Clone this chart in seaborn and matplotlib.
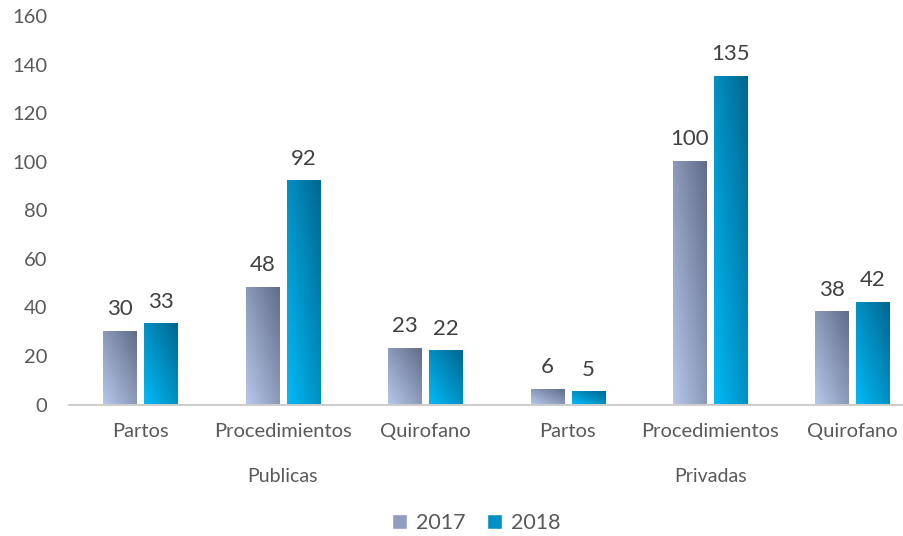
import numpy as np
import pandas as pd
import seaborn as sns
import matplotlib.pyplot as plt
from matplotlib.colors import LinearSegmentedColormap
from matplotlib.patches import Patch

# Data.
groups = ['Publicas', 'Publicas', 'Publicas', 'Privadas', 'Privadas', 'Privadas']
categories = ['Partos', 'Procedimientos', 'Quirofano',
              'Partos', 'Procedimientos', 'Quirofano']
values_2017 = [30, 48, 23, 6, 100, 38]
values_2018 = [33, 92, 22, 5, 135, 42]
years = ['2017', '2018']

keys = [f'{g}|{c}' for g, c in zip(groups, categories)]
df = pd.DataFrame({
    'key': keys * 2,
    'year': [years[0]] * len(keys) + [years[1]] * len(keys),
    'value': values_2017 + values_2018,
})

# Gradient ends (bottom-left light, top-right dark) per series.
grad = {
    '2017': ('#b6c7ea', '#616d88'),
    '2018': ('#00baf7', '#00668f'),
}
mid = {'2017': '#8f9dc0', '2018': '#0090c8'}

sns.set_theme(style='white')
plt.rcParams['font.family'] = ['Lato', 'DejaVu Sans']

fig = plt.figure(figsize=(9.04, 5.36), dpi=100)
ax = fig.add_axes([69.3 / 904, (536 - 404.5) / 536, 6 * 142.4 / 904, 388.5 / 536])

sns.barplot(data=df, x='key', y='value', hue='year', order=keys,
            hue_order=years, palette=mid, width=0.576, gap=0.194,
            legend=False, ax=ax)

# Replace the flat fills with diagonal gradients.
u, v = np.meshgrid(np.linspace(0, 1, 40), np.linspace(0, 1, 80))
t = (u + v) / 2
for year, container in zip(years, ax.containers):
    cmap = LinearSegmentedColormap.from_list(year, grad[year])
    for bar, val in zip(container.patches, df[df.year == year].value):
        x0, w, h = bar.get_x(), bar.get_width(), bar.get_height()
        ax.imshow(t, cmap=cmap, origin='lower', aspect='auto',
                  extent=[x0, x0 + w, 0, h], vmin=0, vmax=1, zorder=2)
        bar.set_facecolor('none')
        bar.set_edgecolor('none')
        ax.annotate(f'{val:g}', (x0 + w / 2, h), xytext=(0, 9),
                    textcoords='offset points', ha='center', va='bottom',
                    fontsize=16, color='#404040')

ax.set_xlim(-0.5, 5.5)
ax.set_ylim(0, 160)
ax.set_yticks(range(0, 161, 20))
ax.set_xticks(range(len(keys)))
ax.set_xticklabels(categories)
ax.set_xlabel('')
ax.set_ylabel('')
ax.tick_params(axis='x', length=0, pad=13, labelsize=14.5, labelcolor='#595959')
ax.tick_params(axis='y', length=0, pad=16, labelsize=14.5, labelcolor='#595959')
for side in ['top', 'right', 'left']:
    ax.spines[side].set_visible(False)
ax.spines['bottom'].set_color('#c4c4c4')
ax.spines['bottom'].set_linewidth(1.2)
ax.spines['bottom'].set_zorder(3)

# Outer group labels.
for i, g in [(1, 'Publicas'), (4, 'Privadas')]:
    ax.text(i, -0.185, g, transform=ax.get_xaxis_transform(), ha='center',
            va='center', fontsize=14, color='#595959')

handles = [Patch(facecolor=mid[y], label=y) for y in years]
fig.legend(handles=handles, loc='center', bbox_to_anchor=(476 / 904, 1 - 523 / 536),
           ncol=2, frameon=False, fontsize=15.5, handlelength=0.7,
           handleheight=0.7, columnspacing=1.0, handletextpad=0.4,
           labelcolor='#595959')

fig.savefig('out.png', dpi=100)
